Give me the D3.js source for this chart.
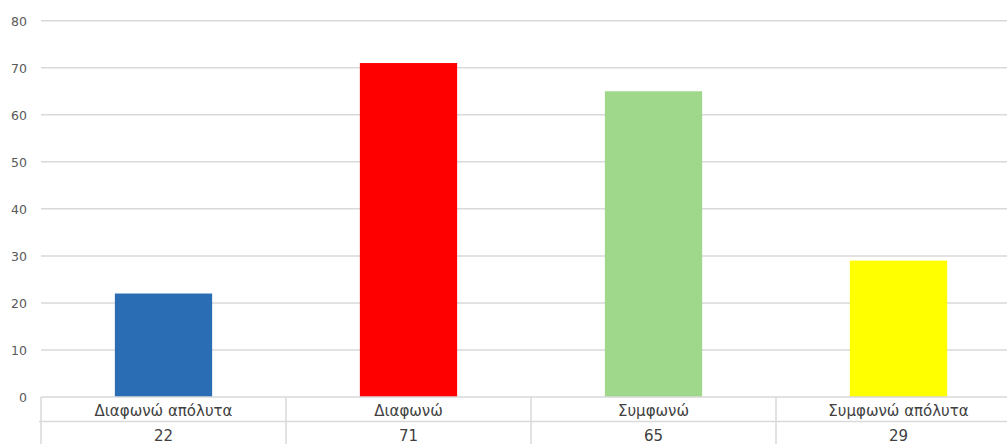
<!DOCTYPE html>
<html>
<head>
<meta charset="utf-8">
<script src="https://cdn.jsdelivr.net/npm/d3@7"></script>
<style>
  html, body { margin: 0; padding: 0; background: #fff; overflow: hidden; }
  svg { display: block; }
</style>
</head>
<body>
<svg id="chart" width="1007" height="444"></svg>
<script>
const categories = ["Διαφωνώ απόλυτα", "Διαφωνώ", "Συμφωνώ", "Συμφωνώ απόλυτα"];
const values = [22, 71, 65, 29];
const barColors = ["#2a6db5", "#ff0000", "#a0d88b", "#ffff00"];
const yTicks = [0, 10, 20, 30, 40, 50, 60, 70, 80];

(function () {
  const svg = d3.select("#chart");
  const plotLeft = 41, plotRight = 1021, plotTop = 20.7, plotBase = 397;
  const font = "'DejaVu Sans', Verdana, sans-serif";

  const x = d3.scaleBand().domain(categories).range([plotLeft, plotRight]).padding(0);
  const y = d3.scaleLinear().domain([0, 80]).range([plotBase, plotTop]);

  // horizontal gridlines
  svg.append("g").selectAll("line").data(yTicks.filter(d => d > 0)).join("line")
    .attr("x1", plotLeft).attr("x2", 1007)
    .attr("y1", d => y(d)).attr("y2", d => y(d))
    .attr("stroke", "#d9d9d9").attr("stroke-width", 1.5);

  // y tick labels
  svg.append("g").selectAll("text").data(yTicks).join("text")
    .attr("x", 27).attr("y", d => y(d) + 5)
    .attr("text-anchor", "end")
    .attr("font-family", font).attr("font-size", 12.5)
    .attr("fill", "#595959")
    .text(d => d);

  // bars
  const barW = x.bandwidth() * 0.397;
  svg.append("g").selectAll("rect").data(categories).join("rect")
    .attr("x", d => x(d) + x.bandwidth() / 2 - barW / 2)
    .attr("width", barW)
    .attr("y", (d, i) => y(values[i]))
    .attr("height", (d, i) => plotBase - y(values[i]))
    .attr("fill", (d, i) => barColors[i]);

  // data table below the axis
  const rowSep = 421.5;
  const grid = svg.append("g").attr("stroke", "#d9d9d9").attr("stroke-width", 1.5);
  grid.append("line").attr("x1", plotLeft).attr("x2", 1007).attr("y1", plotBase).attr("y2", plotBase);
  grid.append("line").attr("x1", 39).attr("x2", 1007).attr("y1", rowSep).attr("y2", rowSep);
  grid.selectAll("line.v").data(categories).join("line").attr("class", "v")
    .attr("x1", d => x(d)).attr("x2", d => x(d))
    .attr("y1", plotBase).attr("y2", 444);

  svg.append("g").selectAll("text").data(categories).join("text")
    .attr("x", d => x(d) + x.bandwidth() / 2).attr("y", 416)
    .attr("text-anchor", "middle")
    .attr("font-family", font).attr("font-size", 15)
    .attr("fill", "#404040")
    .text(d => d);

  svg.append("g").selectAll("text").data(categories).join("text")
    .attr("x", d => x(d) + x.bandwidth() / 2).attr("y", 441)
    .attr("text-anchor", "middle")
    .attr("font-family", font).attr("font-size", 15)
    .attr("fill", "#404040")
    .text((d, i) => values[i]);
})();
</script>
</body>
</html>
